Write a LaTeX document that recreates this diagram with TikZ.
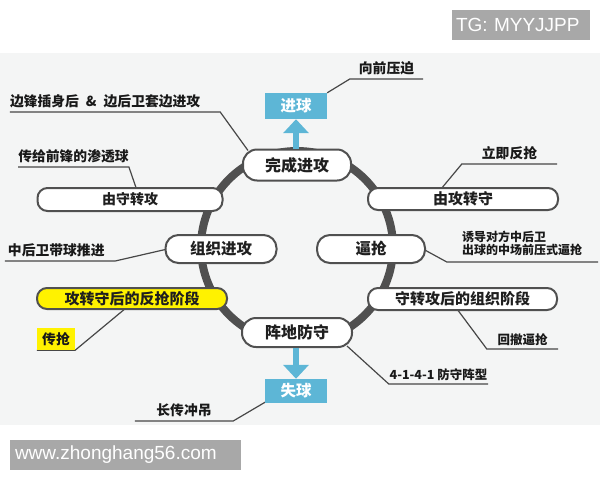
\documentclass[tikz,border=0pt]{standalone}
\usepackage{fontspec}
\setmainfont{Liberation Sans}
\newfontfamily\cjk{Noto Sans CJK SC}
\usetikzlibrary{arrows.meta}
\definecolor{ringgray}{HTML}{505050}
\definecolor{ballblue}{HTML}{5DB6D6}
\definecolor{hiyellow}{HTML}{FFF200}
\definecolor{panelbg}{HTML}{F4F5F5}
\definecolor{tagbg}{HTML}{A8A8A8}
\pgfdeclarelayer{back}
\pgfsetlayers{back,main}

\begin{document}
\begin{tikzpicture}[x=1pt, y=-1pt,
    phase/.style={draw=ringgray, line width=2pt, fill=white, rounded corners=10pt,
        inner sep=0pt, text=black!88, font=\cjk\bfseries\fontsize{15}{17}\selectfont},
    ball/.style={fill=ballblue, text=white, inner sep=0pt, minimum width=62pt,
        font=\cjk\bfseries\fontsize{15.5}{17}\selectfont},
    note/.style={inner xsep=0pt, inner ysep=3.5pt, anchor=south, text=black!90,
        font=\cjk\bfseries\fontsize{13.8}{16}\selectfont},
    lead/.style={draw=black!72, line width=1.2pt},
    bigarrow/.style={draw=ballblue, line width=6pt, -{Triangle[width=25pt,length=14pt]}},
    tag/.style={fill=tagbg, text=white, inner ysep=0pt, minimum height=30pt,
        align=left, font=\fontsize{19}{21}\selectfont}]
    \useasboundingbox (0, 0) rectangle (600, 480);

    % ring and panel
    \begin{pgfonlayer}{back}
        \fill [panelbg] (0, 53) rectangle (600, 425);
        \draw [ringgray, line width=8pt] (297, 247) circle [radius=96];
    \end{pgfonlayer}

    % phases on the ring
    \node [phase, minimum width=108pt, minimum height=31pt, rounded corners=14pt,
        font=\cjk\bfseries\fontsize{16}{18}\selectfont] (done) at (297, 165) {完成进攻};
    \node [phase, minimum width=185pt, minimum height=23pt,
        font=\cjk\bfseries\fontsize{14}{16}\selectfont] (toatk) at (130, 199.5) {由守转攻};
    \node [phase, minimum width=111pt, minimum height=28pt, rounded corners=13pt,
        font=\cjk\bfseries\fontsize{15.5}{17}\selectfont] (build) at (221, 249) {组织进攻};
    \node [phase, minimum width=108pt, minimum height=28pt, rounded corners=13pt,
        font=\cjk\bfseries\fontsize{15.5}{17}\selectfont] (press) at (371, 249) {逼抢};
    \node [phase, minimum width=190pt, minimum height=22pt] (todef) at (463, 199) {由攻转守};
    \node [phase, fill=hiyellow, minimum width=190pt, minimum height=21pt]
        (counter) at (132, 298.5) {攻转守后的反抢阶段};
    \node [phase, minimum width=189pt, minimum height=22pt] (organise) at (462.5, 299) {守转攻后的组织阶段};
    \node [phase, minimum width=110pt, minimum height=29pt, rounded corners=14pt,
        font=\cjk\bfseries\fontsize{16}{18}\selectfont] (pos) at (297, 332.5) {阵地防守};

    % results
    \node [ball, minimum height=26pt] (goal) at (296, 106) {进球};
    \node [ball, minimum height=24pt] (lost) at (296, 391) {失球};
    \draw [bigarrow] (goal |- done.north) -- (goal.south);
    \draw [bigarrow] (lost |- pos.south) -- (lost.north);

    % notes
    \node [note, minimum width=73pt] (nfwd) at (386.5, 79) {向前压迫};
    \node [note, text width=210pt, align=left] (nwing) at (115, 112)
        {边锋插身后\hspace{7pt}\&\hspace{7pt}边后卫套边进攻};
    \node [note, minimum width=107pt] (nthru) at (73.5, 167) {传给前锋的渗透球};
    \node [note, text width=110pt, align=left] (ncb) at (60, 261) {\hspace*{3pt}中后卫带球推进};
    \node [note, minimum width=95pt] (nregain) at (509.5, 164) {立即反抢};
    \node [note, text width=151pt, align=left, inner ysep=6pt,
        font=\cjk\bfseries\fontsize{12}{13.5}\selectfont] (nlure) at (522.5, 262)
        {\hspace*{15pt}诱导对方中后卫\\\hspace*{15pt}出球的中场前压式逼抢};
    \node [note, fill=hiyellow, minimum width=38pt, minimum height=22pt, anchor=center,
        inner ysep=0pt] (npass) at (56, 339) {传抢};
    \node [note, minimum width=98pt] (nlong) at (184, 421) {长传冲吊};
    \node [note, minimum width=71pt, font=\cjk\bfseries\fontsize{12.5}{14}\selectfont]
        (nback) at (522.5, 349) {回撤逼抢};
    \node [note, minimum width=99pt, font=\cjk\bfseries\fontsize{12.5}{15}\selectfont]
        (nshape) at (438.5, 384) {4-1-4-1 防守阵型};

    % leader lines
    \begin{pgfonlayer}{back}
        \draw [lead] (nfwd.south east) -- (nfwd.south west) -- (goal.north east);
        \draw [lead] (nwing.south west) -- (nwing.south east) -- ([xshift=6pt, yshift=-2pt]done.north west);
        \draw [lead] (nthru.south west) -- (nthru.south east) -- ([xshift=100pt, yshift=-2pt]toatk.north west);
        \draw [lead] (ncb.south west) -- (ncb.south east) -- ([xshift=3pt]build.west);
        \draw [lead] (nregain.south east) -- (nregain.south west) -- ([xshift=74pt, yshift=-2pt]todef.north west);
        \draw [lead] (nlure.south east) -- (nlure.south west) -- ([xshift=-3pt]press.east);
        \draw [lead] (npass.south west) -- (npass.south east) -- ([xshift=90pt, yshift=2pt]counter.south west);
        \draw [lead] (nlong.south west) -- (nlong.south east) -- ([xshift=2pt, yshift=2pt]lost.south west);
        \draw [lead] (nback.south east) -- (nback.south west) -- ([xshift=90pt, yshift=2pt]organise.south west);
        \draw [lead] (nshape.south east) -- (nshape.south west) -- ([xshift=-6pt, yshift=2pt]pos.south east);
    \end{pgfonlayer}

    % site tags
    \node [tag, text width=130pt, inner xsep=4pt] (tg) at (521, 25) {TG: MYYJJPP};
    \node [tag, text width=221pt, inner xsep=5pt] (site) at (125.5, 455) {www.zhonghang56.com};
\end{tikzpicture}
\end{document}
